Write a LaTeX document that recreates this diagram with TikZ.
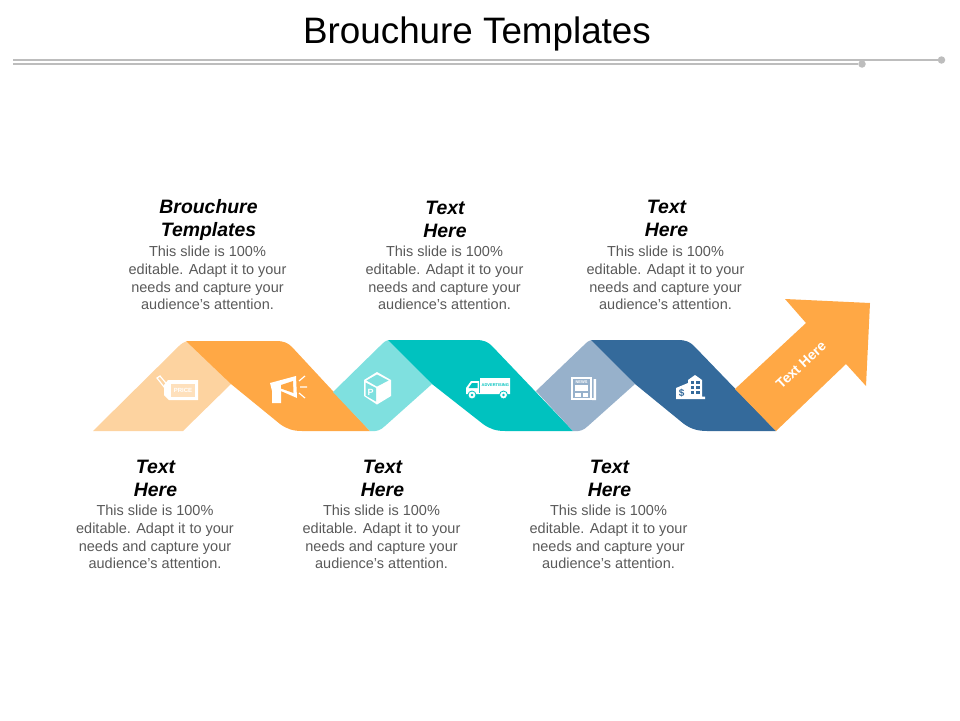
\documentclass[tikz,border=0pt]{standalone}
\usepackage{fontspec}
\setmainfont{Liberation Sans}
\definecolor{peach}{HTML}{FDD3A0}
\definecolor{ribbonorange}{HTML}{FFA845}
\definecolor{lightteal}{HTML}{7FE0DF}
\definecolor{ribbonteal}{HTML}{00C2BF}
\definecolor{lightblue}{HTML}{97B1CB}
\definecolor{ribbonblue}{HTML}{346A9B}
\definecolor{rulegrey}{HTML}{BDBDBD}
\definecolor{bodygrey}{HTML}{595959}
\tikzset{
  heading/.style={align=center,font=\fontsize{19.4}{23}\selectfont\bfseries\itshape,text=black,inner sep=0pt},
  bodytext/.style={align=center,font=\fontsize{14.5}{17.7}\selectfont,text=bodygrey,inner sep=0pt},
  rulecap/.style={circle,fill=rulegrey,minimum size=7.5pt,inner sep=0pt},
  icon/.style={fill=white,draw=none},
}
\begin{document}
\begin{tikzpicture}[x=1pt,y=-1pt]
      \useasboundingbox (0,0) rectangle (960,720);
      % title and rules
      \node[font=\fontsize{36.8}{40}\selectfont,text=black,inner sep=0pt] (title) at (477,34) {Brouchure Templates};
      \node[rulecap] (capa) at (862,64) {};
      \node[rulecap] (capb) at (941.5,60) {};
      \coordinate (starta) at (13,64);
      \coordinate (startb) at (13,60);
      \draw[rulegrey,line width=1.8pt] (starta) -- (capa);
      \draw[rulegrey,line width=1.8pt] (startb) -- (capb);
      % ribbon
      \fill[peach] (93,431) -- (180,345) .. controls (184,342) and (186,341) .. (190,341)
        -- (231,384) -- (183,431) -- cycle;
      \fill[ribbonorange] (186,341) -- (276,341) .. controls (284,341) and (288,343) .. (292,347)
        -- (370,431) -- (302,431) .. controls (293,431) and (287,429) .. (280,424) -- (231,384) -- cycle;
      \fill[lightteal] (333,392) -- (380,346) .. controls (384,342) and (386,340) .. (390,340)
        -- (432,384) -- (385,426) .. controls (381,430) and (376,432) .. (370,431) -- cycle;
      \fill[ribbonteal] (388,340) -- (476,340) .. controls (484,340) and (488,342) .. (492,346)
        -- (573,431) -- (505,431) .. controls (496,431) and (490,429) .. (483,424) -- (432,384) -- cycle;
      \fill[lightblue] (536,391) -- (583,346) .. controls (587,342) and (589,340) .. (593,340)
        -- (635,384) -- (588,426) .. controls (584,430) and (579,432) .. (573,431) -- cycle;
      \fill[ribbonblue] (591,340) -- (678,340) .. controls (686,340) and (690,342) .. (694,346)
        -- (776,431) -- (707,431) .. controls (698,431) and (691,429) .. (684,424) -- (635,384) -- cycle;
      \fill[ribbonorange] (735,389) -- (806,323) -- (785,299) -- (870,303) -- (866,386)
        -- (846,364) -- (776,431) -- cycle;
      \node[font=\fontsize{14}{16}\selectfont\bfseries,text=white,rotate=43,inner sep=0pt] (arrowtext) at (801,365) {Text Here};
      % price tag
      \fill[icon] (168,380) -- (198,380) -- (198,400) -- (169,400) -- (164,395) -- (164,385) -- cycle;
      \fill[peach!70!white] (171,384) rectangle (195,397);
      \draw[white,line width=1.2pt] (168,392) -- (157,378) -- (160,376) -- (170,388);
      \node[font=\fontsize{6}{6}\selectfont\bfseries,text=white,inner sep=0pt] (price) at (183,390.5) {PRICE};
      % megaphone
      \fill[icon] (270,383) -- (296,376) -- (297,398) -- (281,391) -- (281,403) -- (272,403) -- (272,391) -- cycle;
      \fill[ribbonorange] (281,385) -- (293,381) -- (293.5,393) -- (281,388.5) -- cycle;
      \draw[white,line width=1.2pt] (299,381) -- (305,376) (300,387) -- (307,387) (299,393) -- (305,398);
      % box
      \fill[icon] (377,372) -- (391,380) -- (391,396) -- (377,404.5) -- (364,396) -- (364,380) -- cycle;
      \fill[lightteal] (377,374.5) -- (388.5,380.5) -- (377,386.5) -- (366.5,380.5) -- cycle;
      \fill[lightteal] (365.5,382.5) -- (376,388) -- (376,401.5) -- (365.5,395.5) -- cycle;
      \node[font=\fontsize{9}{9}\selectfont\bfseries,text=white,inner sep=0pt] (boxp) at (370.5,392.5) {P};
      % truck
      \fill[icon] (480,378) -- (510,378) -- (510,394) -- (466,394) -- (466,388) -- (471,381) -- (479,381) -- (479,393) -- (480,393) -- cycle;
      \fill[ribbonteal] (472,383) -- (477.5,383) -- (477.5,388) -- (468.5,388) -- cycle;
      \draw[fill=white,draw=ribbonteal,line width=.8pt] (472,395) circle (4);
      \draw[fill=white,draw=ribbonteal,line width=.8pt] (503.5,395) circle (4);
      \fill[ribbonteal] (472,395) circle (1.3);
      \fill[ribbonteal] (503.5,395) circle (1.3);
      \node[font=\fontsize{4}{5}\selectfont\bfseries,text=ribbonteal,inner sep=0pt] (advert) at (495.3,385.5) {ADVERTISING};
      % newspaper
      \fill[icon] (571,377) -- (592,377) -- (592,400) -- (571,400) -- cycle;
      \fill[lightblue] (573,379) rectangle (590,398);
      \fill[icon] (575,385) rectangle (588,391);
      \fill[icon] (575,392.5) rectangle (580.5,396.5);
      \fill[icon] (582.5,392.5) rectangle (588,396.5);
      \node[font=\fontsize{4}{5}\selectfont\bfseries,text=white,inner sep=0pt] (news) at (581.5,382) {NEWS};
      \fill[icon] (593.5,379) rectangle (596,398) (592,398) rectangle (596,400);
      % building
      \fill[icon] (688,380) -- (695,375) -- (702,380) -- (702,396.5) -- (705,396.5) -- (705,399) -- (676,399) -- (676,388) -- (688,383) -- cycle;
      \foreach \colx in {690.6,696} \foreach \rowy in {380.5,385.5,390.5}
        \fill[ribbonblue] (\colx,\rowy) rectangle ++(3.8,3.8);
      \node[font=\fontsize{10}{10}\selectfont\bfseries,text=ribbonblue,inner sep=0pt] (dollar) at (681.7,392.7) {\$};
      % upper texts
      \node[heading] (heada) at (208.5,219.5) {Brouchure\\Templates};
      \node[bodytext] (bodya) at (207.5,278) {This slide is 100\%\\editable. Adapt it to your\\needs and capture your\\audience's attention.};
      \node[heading] (headb) at (445,219.5) {Text\\Here};
      \node[bodytext] (bodyb) at (444.5,278) {This slide is 100\%\\editable. Adapt it to your\\needs and capture your\\audience's attention.};
      \node[heading] (headc) at (666.5,218.5) {Text\\Here};
      \node[bodytext] (bodyc) at (665.5,278) {This slide is 100\%\\editable. Adapt it to your\\needs and capture your\\audience's attention.};
      % lower texts
      \node[heading] (headd) at (155.5,478.5) {Text\\Here};
      \node[bodytext] (bodyd) at (155,537) {This slide is 100\%\\editable. Adapt it to your\\needs and capture your\\audience's attention.};
      \node[heading] (heade) at (382.5,478.5) {Text\\Here};
      \node[bodytext] (bodye) at (381.5,537) {This slide is 100\%\\editable. Adapt it to your\\needs and capture your\\audience's attention.};
      \node[heading] (headf) at (609.5,478.5) {Text\\Here};
      \node[bodytext] (bodyf) at (608.5,537) {This slide is 100\%\\editable. Adapt it to your\\needs and capture your\\audience's attention.};
    \end{tikzpicture}
\end{document}
